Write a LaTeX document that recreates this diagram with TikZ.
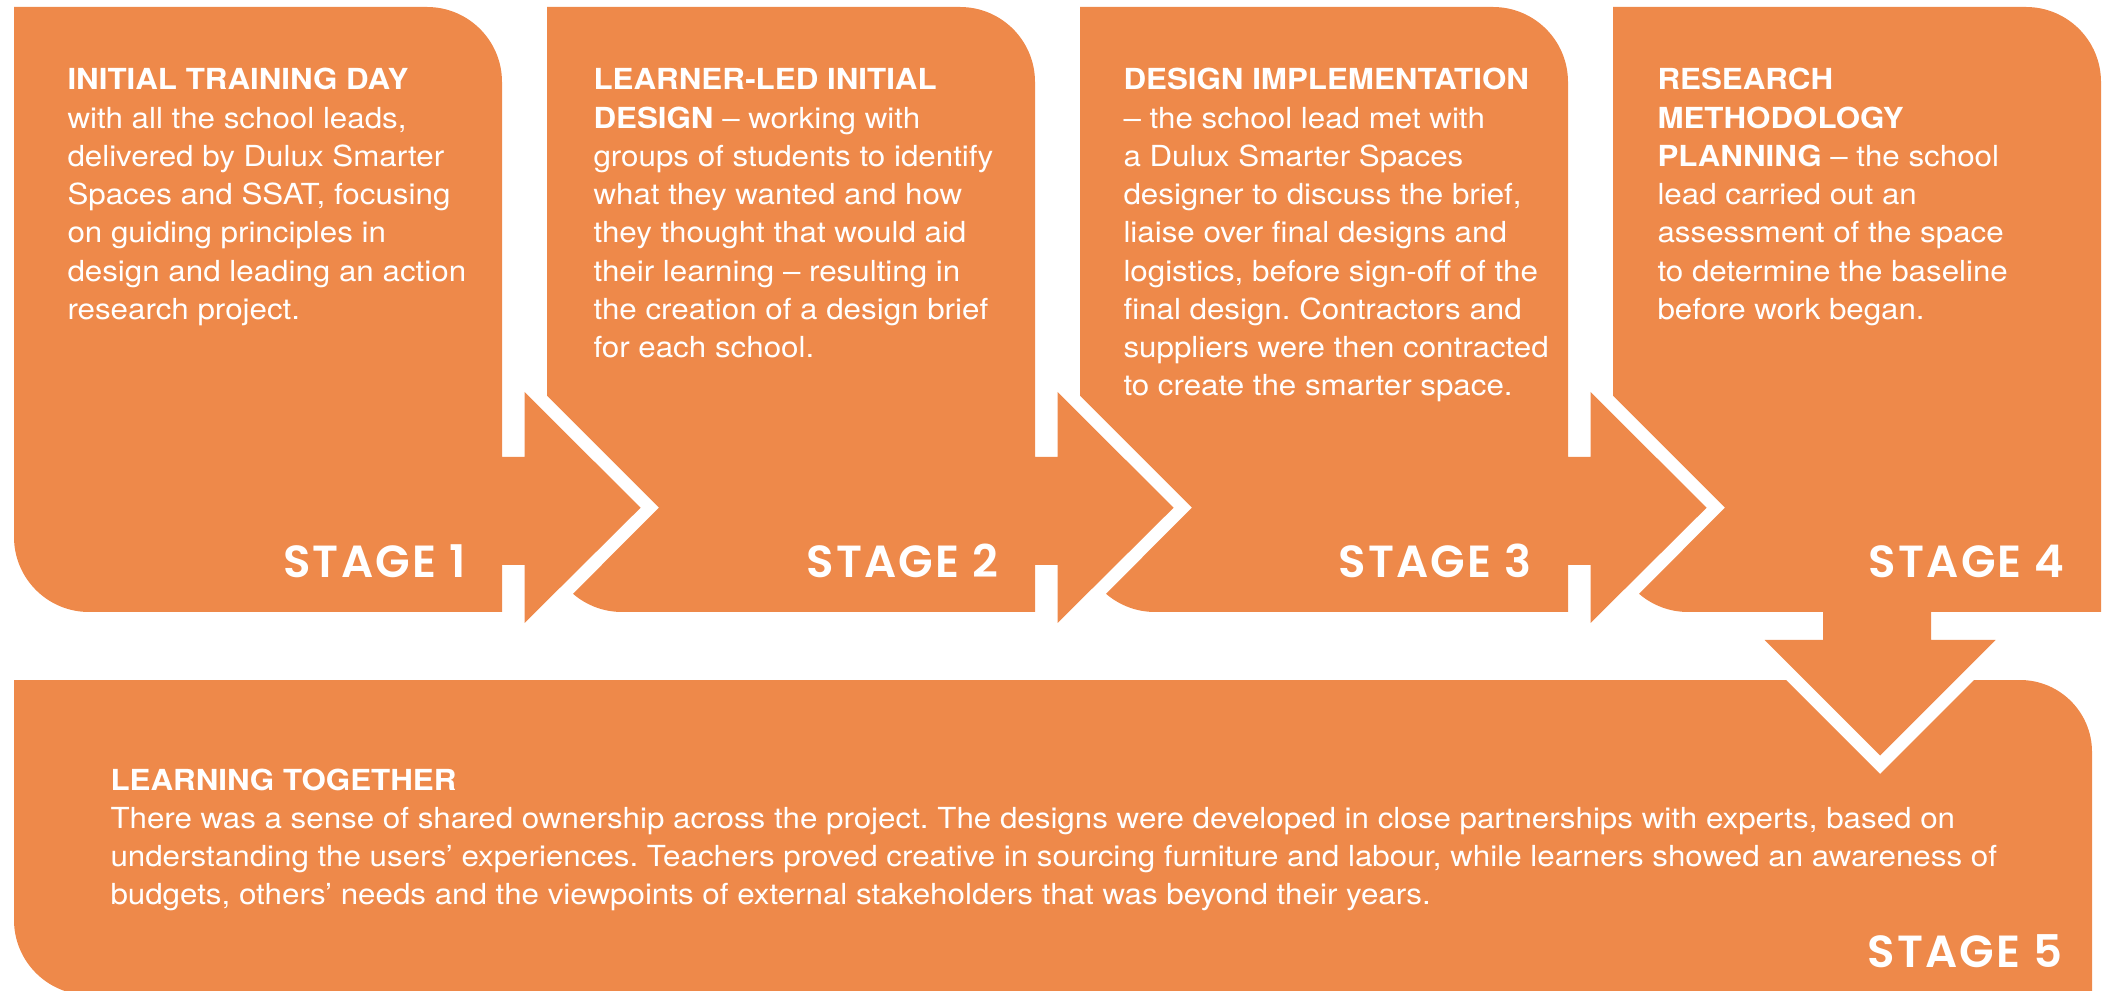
\documentclass[tikz,border=0pt]{standalone}
\usepackage{fontspec}
\setmainfont{TeX Gyre Heros}[FakeStretch=1.08]
\newfontfamily\stagefont{Poppins SemiBold}[LetterSpace=5]
\frenchspacing

\definecolor{stageorange}{RGB}{238,137,74}

\tikzset{
  stagebox/.style={fill=stageorange},
  blurb/.style={anchor=base west, inner sep=0pt, text=white},
  stagelabel/.style={anchor=base east, inner sep=0pt, text=white,
    font=\stagefont\fontsize{18}{22}\selectfont},
}
\newcommand{\blurbtext}[2]{\parbox[t]{#1}{\fontsize{11.6}{15.3}\selectfont\raggedright #2}}

\begin{document}
\begin{tikzpicture}[x=0.4pt, y=0.4pt]
    \useasboundingbox (0,0) rectangle (2107,-991);

    % stage 1, arrow into stage 2
    \fill[stagebox] (14,-7) -- (427,-7) arc[start angle=90, end angle=0, radius=75]
        -- (502,-457) -- (524.5,-457) -- (524.5,-392) -- (640.6,-507.7) -- (524.5,-623)
        -- (524.5,-565) -- (502,-565) -- (502,-612) -- (89,-612)
        arc[start angle=270, end angle=180, radius=75] -- cycle;

    % stages 2 and 3, each with an arrow to the right
    \foreach \dx in {0,533}{
        \fill[stagebox, shift={(\dx,0)}] (547,-7) -- (960,-7) arc[start angle=90, end angle=0, radius=75]
            -- (1035,-457) -- (1057.5,-457) -- (1057.5,-392) -- (1173.6,-507.7) -- (1057.5,-623)
            -- (1057.5,-565) -- (1035,-565) -- (1035,-612) -- (622,-612)
            arc[start angle=270, end angle=229.2, radius=75] -- (659,-507.7) -- (547,-395.7) -- cycle;
    }

    % stage 4, arrow down to stage 5
    \fill[stagebox] (1613,-7) -- (2026,-7) arc[start angle=90, end angle=0, radius=75]
        -- (2101,-612) -- (1931,-612) -- (1931,-640) -- (1995.5,-640) -- (1880,-755.5)
        -- (1764.5,-640) -- (1823,-640) -- (1823,-612) -- (1688,-612)
        arc[start angle=270, end angle=229.2, radius=75] -- (1725,-507.7) -- (1613,-395.7) -- cycle;

    % stage 5
    \fill[stagebox] (14,-680) -- (1786,-680) -- (1880,-774) -- (1974,-680) -- (2020,-680)
        arc[start angle=90, end angle=0, radius=72] -- (2092,-995) -- (89,-995)
        arc[start angle=270, end angle=180, radius=75] -- cycle;

    \node[blurb] (txt1) at (67,-90) {\blurbtext{200pt}{\textbf{INITIAL TRAINING DAY}\\
        with all the school leads,\\ delivered by Dulux Smarter\\ Spaces and SSAT, focusing\\
        on guiding principles in\\ design and leading an action\\ research project.}};
    \node[blurb] (txt2) at (593,-90) {\blurbtext{200pt}{\textbf{LEARNER-LED INITIAL}\\
        \textbf{DESIGN} -- working with\\ groups of students to identify\\ what they wanted and how\\
        they thought that would aid\\ their learning -- resulting in\\ the creation of a design brief\\
        for each school.}};
    \node[blurb] (txt3) at (1123,-90) {\blurbtext{200pt}{\textbf{DESIGN IMPLEMENTATION}\\
        -- the school lead met with\\ a Dulux Smarter Spaces\\ designer to discuss the brief,\\
        liaise over final designs and\\ logistics, before sign-off of the\\ final design. Contractors and\\
        suppliers were then contracted\\ to create the smarter space.}};
    \node[blurb] (txt4) at (1657,-90) {\blurbtext{200pt}{\textbf{RESEARCH}\\ \textbf{METHODOLOGY}\\
        \textbf{PLANNING} -- the school\\ lead carried out an\\ assessment of the space\\
        to determine the baseline\\ before work began.}};
    \node[blurb] (txt5) at (110,-790) {\blurbtext{800pt}{\textbf{LEARNING TOGETHER}\\
        There was a sense of shared ownership across the project. The designs were developed in close partnerships with experts, based on\\
        understanding the users' experiences. Teachers proved creative in sourcing furniture and labour, while learners showed an awareness of\\
        budgets, others' needs and the viewpoints of external stakeholders that was beyond their years.}};

    \foreach \i/\xr in {1/466,2/999,3/1532,4/2065}
        \node[stagelabel] (lbl\i) at (\xr,-578) {STAGE \i};
    \node[stagelabel] (lbl5) at (2063,-967) {STAGE 5};
\end{tikzpicture}
\end{document}
